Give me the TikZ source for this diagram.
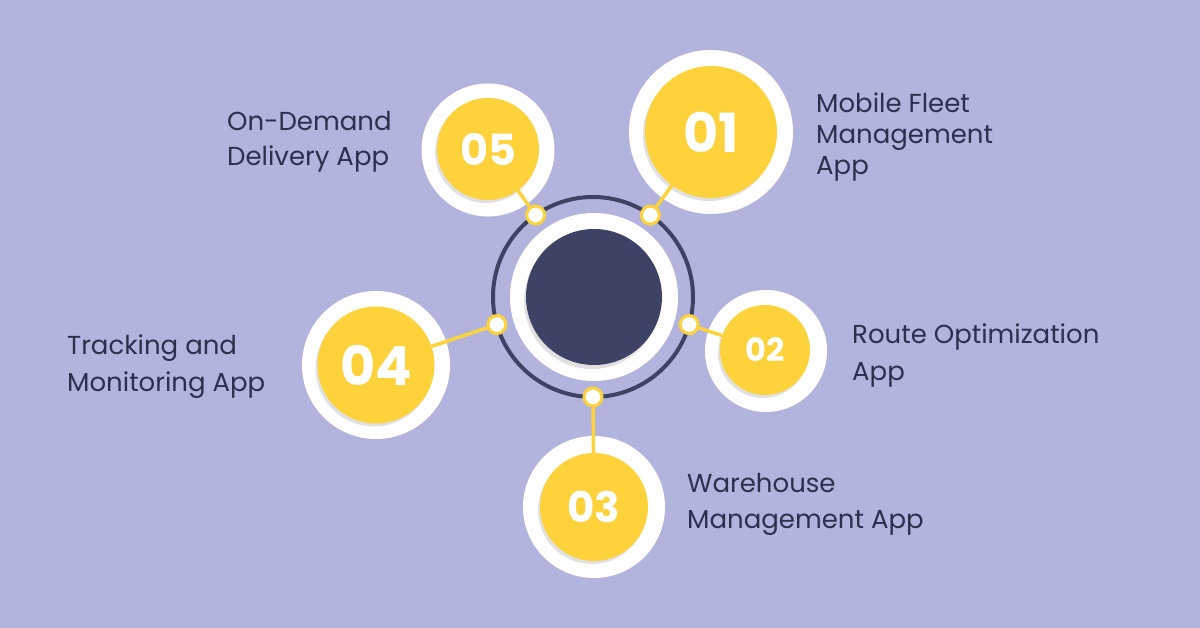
\documentclass[tikz,border=0pt]{standalone}
\usepackage{fontspec}
\setmainfont{Poppins}
\usetikzlibrary{shadows}
\definecolor{bgcol}{RGB}{178,180,222}
\definecolor{navy}{RGB}{62,66,101}
\definecolor{sun}{RGB}{253,210,58}
\definecolor{ink}{RGB}{44,47,78}
\tikzset{
  halo/.style={circle, fill=white, inner sep=0pt, outer sep=0pt},
  numdisc/.style={circle, fill=sun, text=white, inner sep=0pt, outer sep=0pt,
    drop shadow={shadow xshift=-2pt, shadow yshift=-3pt, opacity=0.12, fill=black}},
  pin/.style={circle, fill=white, draw=sun, line width=3pt, minimum size=18pt, inner sep=0pt},
  link/.style={draw=sun, line width=3.5pt},
  applabel/.style={anchor=north west, align=left, inner sep=0pt, text=ink}
}
\begin{document}
\begin{tikzpicture}[x=1pt,y=1pt]
\fill[bgcol] (0,0) rectangle (1200,628);
\useasboundingbox (0,0) rectangle (1200,628);
% hub
\node[circle, draw=navy, line width=4pt, minimum size=200pt, inner sep=0pt, outer sep=0pt] (ring) at (593,331) {};
\node[halo, minimum size=168pt] (hubhalo) at (594,331) {};
\node[circle, fill=navy, minimum size=136pt, inner sep=0pt,
  drop shadow={shadow xshift=-2pt, shadow yshift=-4pt, opacity=0.12, fill=black}] (hub) at (594,331) {};
% white halos
\node[halo, minimum size=164pt] (h1) at (711,496) {};
\node[halo, minimum size=122pt] (h2) at (766,277) {};
\node[halo, minimum size=142pt] (h3) at (594,121) {};
\node[halo, minimum size=148pt] (h4) at (376,263) {};
\node[halo, minimum size=133pt] (h5) at (488,478) {};
% numbered discs
\node[numdisc, minimum size=132pt, font=\fontsize{54}{54}\selectfont\bfseries] (n1) at (711,496) {01};
\node[numdisc, minimum size=90pt, font=\fontsize{32}{32}\selectfont\bfseries] (n2) at (765,278) {02};
\node[numdisc, minimum size=108pt, font=\fontsize{42}{42}\selectfont\bfseries] (n3) at (594,121) {03};
\node[numdisc, minimum size=117pt, font=\fontsize{54}{54}\selectfont\bfseries] (n4) at (376,263) {04};
\node[numdisc, minimum size=102pt, font=\fontsize{43}{43}\selectfont\bfseries] (n5) at (488,479) {05};
% pins on the ring
\node[pin] (d1) at (ring.55) {};
\node[pin] (d2) at (ring.-16) {};
\node[pin] (d3) at (ring.-90) {};
\node[pin] (d4) at (ring.196) {};
\node[pin] (d5) at (ring.125) {};
\draw[link] (d1) -- (n1);
\draw[link] (d2) -- (n2);
\draw[link] (d3) -- (n3);
\draw[link] (d4) -- (n4);
\draw[link] (d5) -- (n5);
% labels
\node[applabel, font=\fontsize{26}{31}\selectfont] (t1) at (816,535) {Mobile Fleet\\Management\\App};
\node[applabel, font=\fontsize{26}{37}\selectfont] (t2) at (852,304) {Route Optimization\\App};
\node[applabel, font=\fontsize{26}{36}\selectfont] (t3) at (687,155) {Warehouse\\Management App};
\node[applabel, font=\fontsize{26}{37}\selectfont] (t4) at (67,293) {Tracking and\\Monitoring App};
\node[applabel, font=\fontsize{26}{35}\selectfont] (t5) at (227,517) {On-Demand\\Delivery App};
\end{tikzpicture}
\end{document}
